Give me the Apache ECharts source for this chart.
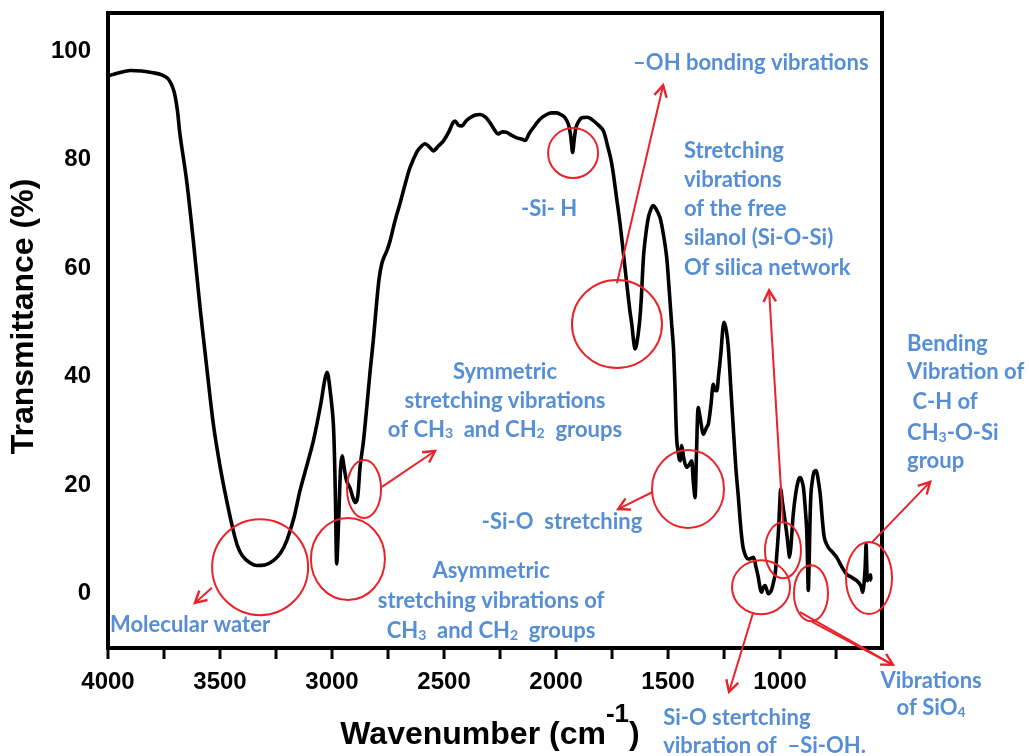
<!DOCTYPE html>
<html>
<head>
<meta charset="utf-8">
<script src="https://cdn.jsdelivr.net/npm/echarts@6/dist/echarts.min.js"></script>
<style>
html,body{margin:0;padding:0;background:#fff;}
#chart{width:1029px;height:756px;}
</style>
</head>
<body>
<div id="chart"></div>
<script>
// ---- data ----
const wavenumber = [4000,3950,3900,3850,3800,3760,3730,3705,3690,3679,3649,3619,3589,3560,3530,3500,3470,3440,3420,3400,3370,3336,3300,3262,3230,3202,3170,3143,3110,3083,3050,3032,3022,3010,2994,2985,2979,2970,2962,2955,2945,2935,2920,2905,2895,2885,2875,2860,2845,2830,2816,2800,2790,2778,2768,2755,2741,2720,2696,2670,2652,2620,2600,2585,2565,2548,2525,2503,2480,2460,2451,2435,2421,2400,2384,2360,2339,2315,2295,2275,2258,2240,2220,2200,2176,2155,2138,2120,2101,2070,2042,2020,1997,1975,1960,1945,1935,1926,1918,1911,1900,1885,1860,1841,1815,1789,1770,1755,1744,1730,1714,1700,1684,1670,1662,1655,1647,1640,1628,1620,1610,1600,1588,1575,1566,1555,1536,1520,1506,1495,1484,1476,1469,1461,1450,1446,1439,1430,1417,1405,1395,1388,1380,1373,1365,1355,1342,1330,1320,1308,1298,1290,1283,1275,1265,1250,1240,1231,1220,1208,1197,1186,1175,1165,1152,1142,1130,1119,1108,1098,1088,1082,1075,1067,1060,1052,1040,1030,1022,1015,1007,1001,997,990,982,970,962,958,952,941,930,919,911,904,896,888,881,877,874,870,866,862,856,848,839,830,821,812,805,799,784,765,747,725,703,680,658,640,631,625,620,616,613,610,603,597,594,591];
const transmittance = [95.4,96.0,96.4,96.3,96.0,95.6,94.8,92.5,89.0,84.7,76.1,65.0,52.7,42.0,31.3,23.5,17.1,11.5,8.6,7.0,5.8,5.2,5.3,6.1,7.5,9.8,14.0,19.0,24.0,28.2,35.0,39.5,40.8,38.0,31.3,18.0,5.5,14.0,23.0,25.4,23.0,20.8,19.5,17.5,16.8,18.0,23.3,28.0,34.3,41.0,46.6,54.0,58.0,60.8,62.0,63.2,65.0,68.5,72.0,76.0,78.5,81.5,82.5,82.9,82.3,81.6,82.5,83.4,85.0,86.8,87.1,86.3,86.2,87.2,87.7,88.2,88.3,87.8,86.8,85.5,84.7,85.1,85.0,84.5,84.0,83.8,83.5,84.8,85.9,87.5,88.3,88.6,88.6,88.2,87.7,86.5,84.5,81.3,84.0,85.9,87.0,87.7,87.8,87.4,86.5,85.3,82.5,80.0,77.3,73.0,68.1,63.0,57.0,52.0,49.7,47.0,45.1,46.0,49.7,54.0,61.9,66.0,69.3,71.0,71.5,71.0,69.3,66.0,61.9,56.0,49.7,45.4,38.0,28.2,24.8,24.5,27.3,25.0,23.3,23.8,24.5,21.0,17.7,26.0,34.3,32.0,29.4,30.5,31.3,35.0,38.6,37.5,37.4,40.0,44.0,50.0,48.5,45.4,38.0,30.0,23.0,17.7,12.0,8.5,6.8,6.4,6.5,6.7,5.0,3.2,0.8,0.3,1.2,1.5,0.8,0.0,0.5,2.0,3.6,7.0,11.6,17.0,19.3,17.0,14.7,11.0,8.0,6.7,8.5,14.7,18.5,20.8,21.4,21.0,19.6,16.0,11.6,5.0,0.6,6.0,14.0,18.5,20.8,22.5,22.7,21.0,18.4,14.0,11.0,9.8,8.5,7.6,6.7,5.0,3.6,3.0,2.4,1.5,0.25,2.0,5.0,9.2,5.0,2.4,3.0,3.5,2.5,2.4];

const xTickValues = [750,1000,1250,1500,1750,2000,2250,2500,2750,3000,3250,3500,3750,4000];
const xLabelValues = [1000,1500,2000,2500,3000,3500,4000];
const yLabelValues = [0,20,40,60,80,100];
const xTitle = '{m|Wavenumber (cm}{sup|-1}{m|)}';
const yTitle = 'Transmittance (%)';

// annotation marks, in data units (wavenumber, transmittance); radii in px
const circleCenters = [[3321,4.9],[2929,6.4],[2857,19.3],[1924,81.2],[1728,49.7],[1411,19.3],[1085,1.2],[987,8.0],[862,0.1],[603,2.9]];
const circleRadii = [[48,48],[37,41],[17,29],[25,25],[45,44],[36,39],[29,27],[18,28],[17,28],[23,36]];
const arrowFrom = [[3536,1.1],[2777,19.7],[1728,57.2],[1571,18.7],[987,13.2],[1121,-3.6],[911,-3.4],[857,-5.2],[589,9.5]];
const arrowTo   = [[3612,-1.7],[2540,26.3],[1522,93.7],[1723,15.6],[1049,55.9],[1228,-18.1],[496,-13.1],[496,-13.1],[330,20.6]];
const arrowHead = [true,true,true,true,true,true,true,false,true];

const noteTexts = [
  '–OH bonding vibrations',
  '-Si- H',
  'Stretching','vibrations','of the free','silanol (Si-O-Si)','Of silica network',
  'Symmetric','stretching vibrations','of CH{s|3}  and CH{s|2}  groups',
  '-Si-O  stretching',
  'Asymmetric','stretching vibrations of','CH{s|3}  and CH{s|2}  groups',
  'Molecular water',
  'Si-O stertching','vibration of  –Si-OH.',
  'Vibrations','of SiO{s|4}',
  'Bending','Vibration of',' C-H of','CH{s|3}-O-Si','group'
];
const notePos = [
  [1656,97.8],
  [2031,70.9],
  [1429,81.6],[1429,76.2],[1429,70.9],[1429,65.5],[1429,60.0],
  [2228,40.9],[2228,35.5],[2228,30.2],
  [1973,13.2],
  [2290,4.2],[2290,-1.4],[2290,-6.9],
  [3991,-5.8],
  [1522,-22.9],[1522,-28.1],
  [326,-16.1],[326,-21.1],
  [433,46.0],[433,40.8],[433,35.3],[433,29.6],[433,24.4]
];
const noteAlign = ['left','center','left','left','left','left','left','center','center','center','center','center','center','center','left','left','left','center','center','left','left','left','left','left'];

// ---- chart ----
const chart = echarts.init(document.getElementById('chart'), null, {renderer:'canvas'});
const BLACK = '#000';
const RED = '#e8232a';
const BLUE = '#558ED5';
const AXFONT = '"Liberation Sans", Arial, sans-serif';

chart.setOption({
  animation: false,
  backgroundColor: '#fff',
  grid: {left:108, right:147, top:13, bottom:108, containLabel:false, outerBoundsMode:'none',
    show:true, borderColor:BLACK, borderWidth:4, backgroundColor:'transparent'},
  xAxis: {
    type:'value', inverse:true, min:545, max:4000,
    axisLine:{show:true, onZero:false, lineStyle:{color:BLACK, width:4}},
    axisTick:{show:false},
    axisLabel:{customValues:xLabelValues, margin:22, color:BLACK, fontSize:24, fontWeight:'bold', fontFamily:AXFONT,
      formatter:function(v){ return String(v); }},
    splitLine:{show:false}
  },
  yAxis: {
    type:'value', min:-10, max:107,
    axisLine:{show:true, onZero:false, lineStyle:{color:BLACK, width:4}},
    axisTick:{show:false},
    axisLabel:{customValues:yLabelValues, margin:17, color:BLACK, fontSize:24, fontWeight:'bold', fontFamily:AXFONT,
      formatter:function(v){ return String(v); }},
    splitLine:{show:false},
    name:yTitle,
    nameLocation:'middle', nameGap:62,
    nameTextStyle:{fontSize:32, fontWeight:'bold', fontFamily:AXFONT, color:BLACK, padding:[0,0,0,28]}
  },
  series: [{
    type:'line',
    data: wavenumber.map((w,i)=>[w, transmittance[i]]),
    showSymbol:false,
    smooth:0.3,
    lineStyle:{color:BLACK, width:3.6},
    z:3
  }]
});

function px(p){ return chart.convertToPixel({gridIndex:0}, p); }
const els = [];
// x-axis ticks placed through the axis scale
xTickValues.forEach(v=>{
  const p = px([v, -10]);
  els.push({type:'line', silent:true, z:50,
    shape:{x1:p[0], y1:p[1], x2:p[0], y2:p[1]+11},
    style:{stroke:BLACK, lineWidth:3}});
});
// x-axis title with a raised superscript
els.push({type:'text', silent:true, z:50, x:490, y:702,
  style:{text:xTitle, align:'center', verticalAlign:'top', textAlign:'center', textVerticalAlign:'top', fill:BLACK,
    rich:{
      m:{fontSize:32, fontWeight:'bold', fontFamily:AXFONT, fill:BLACK, lineHeight:49, verticalAlign:'bottom'},
      sup:{fontSize:26, fontWeight:'bold', fontFamily:AXFONT, fill:BLACK, lineHeight:26, verticalAlign:'top'}
    }}});
circleCenters.forEach((c,i)=>{
  const p = px(c);
  els.push({type:'ellipse', silent:true, z:100,
    shape:{cx:p[0], cy:p[1], rx:circleRadii[i][0], ry:circleRadii[i][1]},
    style:{fill:null, stroke:RED, lineWidth:2}});
});
arrowFrom.forEach((f,i)=>{
  const a = px(f), b = px(arrowTo[i]);
  els.push({type:'line', silent:true, z:100,
    shape:{x1:a[0], y1:a[1], x2:b[0], y2:b[1]},
    style:{stroke:RED, lineWidth:2}});
  if (arrowHead[i]) {
    const ang = Math.atan2(b[1]-a[1], b[0]-a[0]);
    const L = 13, s = 0.5;
    const p1 = [b[0]-L*Math.cos(ang-s), b[1]-L*Math.sin(ang-s)];
    const p2 = [b[0]-L*Math.cos(ang+s), b[1]-L*Math.sin(ang+s)];
    els.push({type:'polyline', silent:true, z:100,
      shape:{points:[p1, b, p2]},
      style:{stroke:RED, lineWidth:2.4, fill:null}});
  }
});
noteTexts.forEach((t,i)=>{
  const p = px(notePos[i]);
  els.push({type:'text', silent:true, z:101, x:p[0], y:p[1],
    style:{text:t, fill:BLUE, fontSize:22, fontWeight:'bold', fontFamily:'Lato, "Open Sans", sans-serif',
      lineHeight:22, align:noteAlign[i], textAlign:noteAlign[i], verticalAlign:'middle', textVerticalAlign:'middle',
      rich:{s:{fontSize:14, fontWeight:'bold', fontFamily:'Lato, "Open Sans", sans-serif', fill:BLUE, lineHeight:8, verticalAlign:'bottom'}}}});
});
chart.setOption({graphic:{elements:els}});
</script>
</body>
</html>
